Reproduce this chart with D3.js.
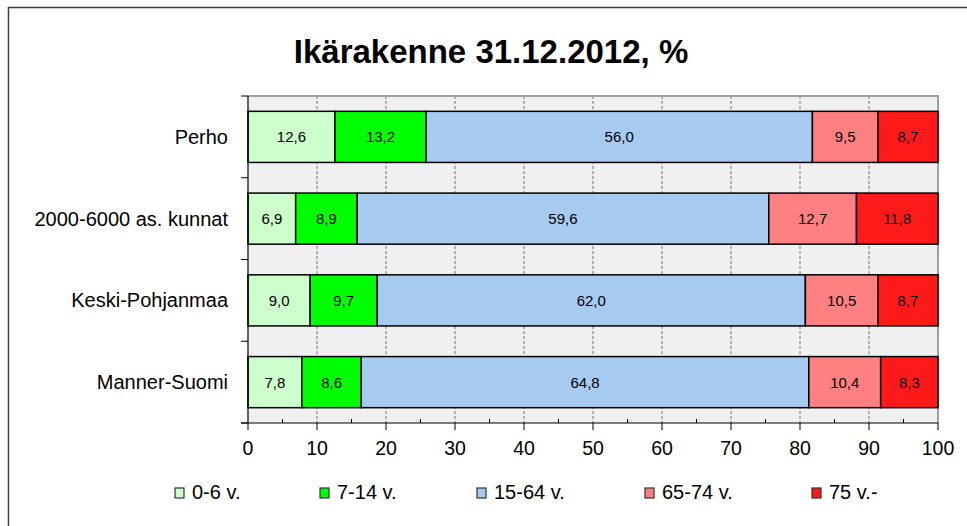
<!DOCTYPE html>
<html lang="fi">
<head>
    <meta charset="UTF-8">
    <title>Ikärakenne</title>
    <script src="https://cdn.jsdelivr.net/npm/d3@7"></script>
    <style>
        body { margin: 0; background: #fff; }
        text { font-family: Arial, "Liberation Sans", sans-serif; }
    </style>
</head>
<body>
    <svg width="967" height="526" id="mainsvg"></svg>
    <script>
        // data
        const regions = ['Perho', '2000-6000 as. kunnat', 'Keski-Pohjanmaa', 'Manner-Suomi'];
        const groups = ['0-6 v.', '7-14 v.', '15-64 v.', '65-74 v.', '75 v.-'];
        const colors = ['#ccffcc', '#00ff00', '#a6caf0', '#ff8080', '#ff1a1a'];
        const v0_6   = [12.6, 6.9, 9.0, 7.8];
        const v7_14  = [13.2, 8.9, 9.7, 8.6];
        const v15_64 = [56.0, 59.6, 62.0, 64.8];
        const v65_74 = [9.5, 12.7, 10.5, 10.4];
        const v75    = [8.7, 11.8, 8.7, 8.3];
        const xTicks = [0, 10, 20, 30, 40, 50, 60, 70, 80, 90, 100];

        const series = [v0_6, v7_14, v15_64, v65_74, v75];
        const rows = regions.map((r, i) => {
            const o = { region: r };
            groups.forEach((g, j) => o[g] = series[j][i]);
            return o;
        });

        const svg = d3.select('#mainsvg');
        const fmt = v => d3.format('.1f')(v).replace('.', ',');

        // outer frame
        svg.append('rect')
            .attr('x', 8.5).attr('y', 7.5).attr('width', 1000).attr('height', 1000)
            .attr('fill', 'none').attr('stroke', '#404040').attr('stroke-width', 1.5);

        svg.append('text')
            .attr('x', 491).attr('y', 63)
            .attr('text-anchor', 'middle')
            .attr('font-size', 33).attr('font-weight', 'bold')
            .text('Ikärakenne 31.12.2012, %');

        const plot = { left: 248, right: 938, top: 96, bottom: 423 };
        const x = d3.scaleLinear().domain([0, 100]).range([plot.left, plot.right]);
        const y = d3.scaleBand().domain(regions).range([plot.top, plot.bottom]).paddingInner(0.375).paddingOuter(0.1875);

        // plot area
        svg.append('rect')
            .attr('x', plot.left).attr('y', plot.top)
            .attr('width', plot.right - plot.left).attr('height', plot.bottom - plot.top)
            .attr('fill', '#f0f0f0');

        svg.append('g').selectAll('line').data(xTicks.slice(1)).join('line')
            .attr('x1', d => x(d)).attr('x2', d => x(d))
            .attr('y1', plot.top).attr('y2', plot.bottom)
            .attr('stroke', '#707070').attr('stroke-dasharray', '3,2');

        svg.append('path')
            .attr('d', `M${plot.left},${plot.top}H${plot.right}V${plot.bottom}`)
            .attr('fill', 'none').attr('stroke', '#a0a0a0').attr('stroke-width', 2);

        // bars (100 % stacked)
        const stack = d3.stack().keys(groups).offset(d3.stackOffsetExpand);
        const layers = stack(rows);

        const layer = svg.append('g').selectAll('g').data(layers).join('g')
            .attr('fill', (d, i) => colors[i]);

        layer.selectAll('rect').data(d => d).join('rect')
            .attr('x', d => x(d[0] * 100))
            .attr('y', d => y(d.data.region))
            .attr('width', d => x(d[1] * 100) - x(d[0] * 100))
            .attr('height', y.bandwidth())
            .attr('stroke', '#000').attr('stroke-width', 1.5);

        layer.each(function(L) {
            d3.select(this).selectAll('text').data(L).join('text')
                .attr('x', d => x((d[0] + d[1]) * 50))
                .attr('y', d => y(d.data.region) + y.bandwidth() / 2 + 5.5)
                .attr('text-anchor', 'middle')
                .attr('font-size', 15).attr('fill', '#000')
                .text(d => fmt(d.data[L.key]));
        });

        // x axis
        const xAxis = svg.append('g').attr('transform', `translate(0,${plot.bottom})`);
        xAxis.append('line')
            .attr('x1', plot.left - 7).attr('x2', plot.right)
            .attr('stroke', '#000').attr('stroke-width', 1.2);
        xAxis.selectAll('.major').data(xTicks).join('line').attr('class', 'major')
            .attr('x1', d => x(d)).attr('x2', d => x(d))
            .attr('y1', 0).attr('y2', 7)
            .attr('stroke', '#000');
        xAxis.selectAll('.minor').data(xTicks.slice(0, -1).map(d => d + 5)).join('line').attr('class', 'minor')
            .attr('x1', d => x(d)).attr('x2', d => x(d))
            .attr('y1', 0).attr('y2', -4)
            .attr('stroke', '#000');
        xAxis.selectAll('text').data(xTicks).join('text')
            .attr('x', d => x(d)).attr('y', 32)
            .attr('text-anchor', 'middle')
            .attr('font-size', 19.5)
            .text(d => d);

        // y axis
        const yAxis = svg.append('g');
        yAxis.append('line')
            .attr('x1', plot.left).attr('x2', plot.left).attr('y1', plot.top).attr('y2', plot.bottom)
            .attr('stroke', '#000').attr('stroke-width', 1.2);
        yAxis.selectAll('.tk').data(d3.range(regions.length + 1)).join('line').attr('class', 'tk')
            .attr('x1', plot.left - 7).attr('x2', plot.left)
            .attr('y1', i => plot.top + i * y.step())
            .attr('y2', i => plot.top + i * y.step())
            .attr('stroke', '#000');
        yAxis.selectAll('text').data(regions).join('text')
            .attr('x', 228)
            .attr('y', d => y(d) + y.bandwidth() / 2 + 7)
            .attr('text-anchor', 'end')
            .attr('font-size', 20)
            .text(d => d);

        // legend
        const legendX = [175, 320, 477, 645, 812];
        const legend = svg.append('g').selectAll('g').data(groups).join('g')
            .attr('transform', (d, i) => `translate(${legendX[i]},488)`);
        legend.append('rect')
            .attr('width', 9).attr('height', 10)
            .attr('fill', (d, i) => colors[i])
            .attr('stroke', '#333').attr('stroke-width', 1.2);
        legend.append('text')
            .attr('x', 17).attr('y', 11)
            .attr('font-size', 20)
            .text(d => d);
    </script>
</body>
</html>
